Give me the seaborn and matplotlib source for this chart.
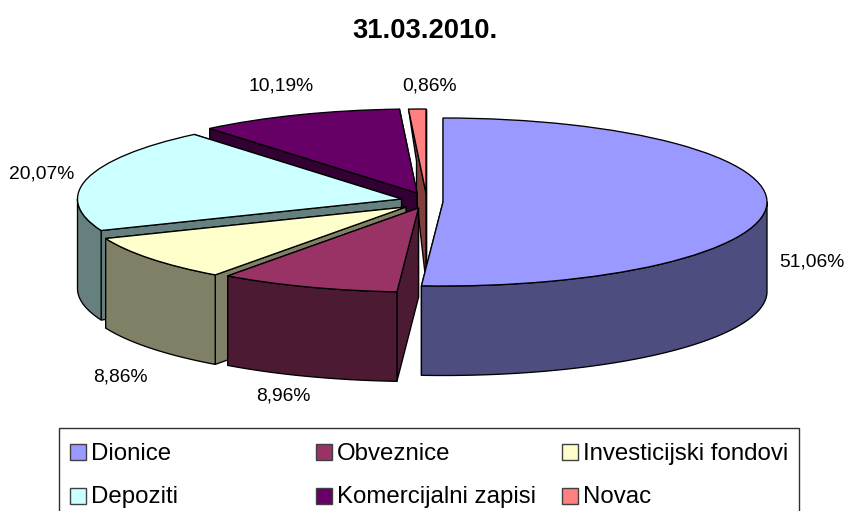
import numpy as np
import seaborn as sns
import matplotlib
matplotlib.use("Agg")
import matplotlib.pyplot as plt
from matplotlib.patches import Rectangle

categories = ["Dionice", "Obveznice", "Investicijski fondovi", "Depoziti", "Komercijalni zapisi", "Novac"]
shares = [51.06, 8.96, 8.86, 20.07, 10.19, 0.86]
title_text = "31.03.2010."
palette_hex = ["#9999FF", "#993366", "#FFFFCC", "#CCFFFF", "#660066", "#FF8080"]

# layout (pixels of the 846x511 canvas)
W, H = 846, 511
RX, RY, DEPTH = 324.0, 84.0, 89.5
CX, CY = 425.0, 200.0
apex_px = [(443, 202), (418.5, 208), (406, 207), (401.5, 199), (417, 193), (426, 193)]
paint_order = [5, 4, 3, 2, 1, 0]
# (sideways shift, at what drop) of the far edge of a cut face: the narrow slice's wall leans inwards
wall_knee_px = [None, None, None, None, None, (8, 52)]
label_px = [(812, 262), (283, 396), (120, 377), (42, 174), (281, 86), (430, 86)]
legend_cols = [70, 316, 562]
legend_rows = [(444, 460), (488, 503)]
legend_slots = [(0, 0), (1, 0), (2, 0), (0, 1), (1, 1), (2, 1)]

sns.set_theme(style="white", rc={"font.family": ["Liberation Sans", "DejaVu Sans"]})
colors = sns.color_palette(palette_hex)
dark = [tuple(c * 0.5 for c in col) for col in colors]
LW = 0.95

fig, ax = plt.subplots(figsize=(W / 100, H / 100), dpi=100)
fig.subplots_adjust(0, 0, 1, 1)
wedges, _ = ax.pie(shares, colors=colors, startangle=90, counterclock=False, radius=1,
                   wedgeprops={"edgecolor": "black", "linewidth": LW})

# squashed view: one data unit is RX pixels wide and RY pixels high
ax.set_aspect("auto")
ax.set_xlim(-CX / RX, (W - CX) / RX)
ax.set_ylim((CY - H) / RY, CY / RY)
ax.axis("off")


def to_x(px):
    return (px - CX) / RX


def to_y(py):
    return (CY - py) / RY


drop = DEPTH / RY
for rank, i in enumerate(paint_order):
    wedge = wedges[i]
    cx, cy = to_x(apex_px[i][0]), to_y(apex_px[i][1])
    wedge.set_center((cx, cy))
    wedge.set_zorder(10 * rank + 5)
    t1, t2 = wedge.theta1, wedge.theta2
    style = dict(facecolor=dark[i], edgecolor="black", linewidth=LW, joinstyle="round")

    # radial cut faces, farthest first
    for a in sorted((t1, t2), key=lambda d: -np.sin(np.radians(d))):
        r = np.radians(a)
        ox, oy = cx + np.cos(r), cy + np.sin(r)
        knee = wall_knee_px[i]
        if knee is not None and np.cos(r) < -0.01:
            shift = knee[0] / RX
            xs = [cx, ox, ox + shift, ox + shift, cx]
            ys = [cy, oy, oy - knee[1] / RY, oy - drop, cy - drop]
        else:
            xs = [cx, ox, ox, cx]
            ys = [cy, oy, oy - drop, cy - drop]
        ax.fill(xs, ys, zorder=10 * rank + 1, **style)

    # curved outer wall for the part of the rim that faces the viewer
    lo, hi = max(t1, -180.0), min(t2, 0.0)
    if lo < hi:
        th = np.radians(np.linspace(lo, hi, 160))
        xs = cx + np.cos(th)
        ys = cy + np.sin(th)
        ax.fill(np.r_[xs, xs[::-1]], np.r_[ys, ys[::-1] - drop], zorder=10 * rank + 2, **style)

# value labels
for v, (lx, ly) in zip(shares, label_px):
    ax.text(to_x(lx), to_y(ly), f"{v:.2f}%".replace(".", ","), ha="center", va="center",
            fontsize=13.85, color="black", zorder=200)

fig.text(424.5 / W, 1 - 30.5 / H, title_text, ha="center", va="center", fontsize=19.7,
         fontweight="bold", color="black")


# legend box runs off the bottom of the canvas, as in the reference
def fx(px):
    return px / W


def fy(py):
    return 1 - py / H


fig.add_artist(Rectangle((fx(59), fy(540)), (799 - 59) / W, (540 - 428) / H, transform=fig.transFigure,
                         facecolor="white", edgecolor="#303030", linewidth=1.0, zorder=1))
for name, col, (c, r) in zip(categories, colors, legend_slots):
    x0 = legend_cols[c]
    top, base = legend_rows[r]
    fig.add_artist(Rectangle((fx(x0), fy(top + 16)), 16 / W, 16 / H, transform=fig.transFigure,
                             facecolor=col, edgecolor="#404040", linewidth=1.0, zorder=2))
    fig.text(fx(x0 + 21), fy(base), name, ha="left", va="baseline", fontsize=17.3, color="black", zorder=3)

fig.savefig("out.png", dpi=100)
